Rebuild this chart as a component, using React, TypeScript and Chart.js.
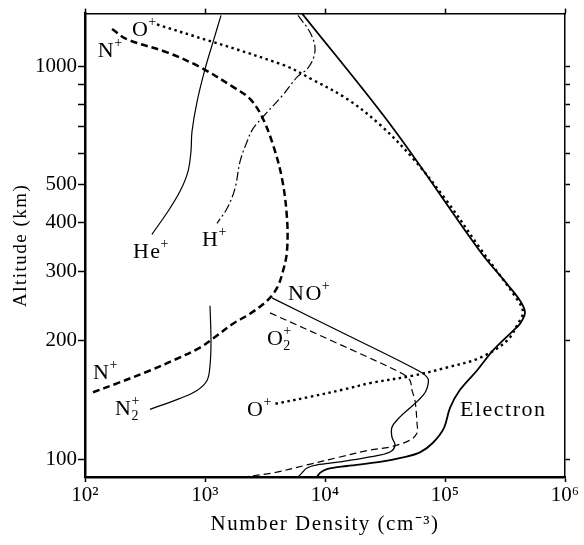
import React, { useEffect, useRef } from 'react';
import { Chart, registerables } from 'chart.js';

Chart.register(...registerables);

type P = [number, number];

// [number density (cm^-3), altitude (km)]
const electronDensity: P[] = [
  [6430, 1361], [36150, 701], [195700, 338], [328500, 279], [421700, 253], [464000, 236],
  [421700, 221], [368800, 212], [251200, 189], [184800, 168], [133400, 150], [110100, 135],
  [98100, 120], [79400, 110], [61900, 104], [44700, 101], [28700, 98.3], [15250, 96.0],
  [10390, 94.3], [9080, 92.2], [8580, 90],
];
const oxygenIon: P[] = [
  [398, 1276], [4470, 1007], [7943, 922], [15250, 825], [28740, 709], [54100, 582],
  [103900, 453], [195700, 344], [405600, 253], [446700, 236], [405600, 221], [328500, 200],
  [195700, 181], [103900, 171], [54100, 163], [23710, 156], [15250, 151], [7500, 144],
  [4217, 139], [3615, 138],
];
const nitrogenIon: P[] = [
  [168, 1242], [224, 1170], [482, 1084], [909, 994], [1711, 885], [2371, 825], [2985, 743],
  [3685, 631], [4385, 517], [4823, 410], [4823, 338], [4467, 301], [3981, 272.5], [3285, 252.7],
  [2371, 234.2], [1711, 221], [1166, 202.5], [909, 192.1], [541, 178.1], [348, 168],
  [185, 155.8], [110, 146.9],
];
const heliumIon: P[] = [
  [1360, 1346], [1166, 1151], [1000, 982], [858, 811], [779, 681], [764, 606], [721, 539],
  [619, 480], [492, 427], [361, 373],
];
const hydrogenIon: P[] = [
  [5957, 1346], [7499, 1219], [8254, 1117], [7943, 1041], [7079, 982], [5843, 937], [4467, 845],
  [3043, 743], [2512, 693], [2239, 642], [1957, 571], [1778, 488], [1525, 434], [1259, 398],
];
const nitricOxideIon: P[] = [
  [3615, 257], [14680, 208], [59570, 168], [72100, 160.3], [70800, 151.3], [65600, 145.2],
  [54100, 137], [42200, 128], [36150, 120.5], [36150, 113.7], [38300, 108.5], [34800, 104.2],
  [23700, 101.2], [13340, 98.3], [8577, 96.6], [7079, 94.9], [6427, 92.2], [5957, 90],
];
const oxygenMolIon: P[] = [
  [3480, 235.5], [12350, 197.7], [43830, 165.1], [51090, 158.5], [53090, 149.5], [56230, 140.9],
  [58430, 123.3], [58430, 116.4], [51090, 111.7], [34800, 107.3], [23700, 105.4], [13340, 101.2],
  [7079, 96.6], [3685, 92.2], [2073, 90],
];
const nitrogenMolIon: P[] = [
  [1101, 245.5], [1122, 200], [1101, 173], [1040, 158.5], [858, 149.5], [619, 142.7], [348, 133.8],
];

const xTickValues = [100, 1000, 10000, 100000, 1000000];
const xTickLabels = ['10²', '10³', '10⁴', '10⁵', '10⁶'];
const yTickValues = [100, 200, 300, 400, 500, 600, 700, 800, 900, 1000];
const yTickLabels = ['100', '200', '300', '400', '500', '', '', '', '', '1000'];

// curve labels: base text, subscript, superscript, anchor (density, altitude)
const curveLabels = [
  { base: 'O', sub: '', sup: '+', x: 246, y: 1233 },
  { base: 'N', sub: '', sup: '+', x: 128, y: 1091 },
  { base: 'He', sub: '', sup: '+', x: 251, y: 336 },
  { base: 'H', sub: '', sup: '+', x: 944, y: 360 },
  { base: 'NO', sub: '', sup: '+', x: 4917, y: 263 },
  { base: 'O', sub: '2', sup: '+', x: 3285, y: 202 },
  { base: 'N', sub: '', sup: '+', x: 116.6, y: 165 },
  { base: 'N', sub: '2', sup: '+', x: 178, y: 134 },
  { base: 'O', sub: '', sup: '+', x: 2239, y: 133 },
  { base: 'Electron', sub: '', sup: '', x: 133400, y: 133 },
];

const SERIF = "'Liberation Serif', 'Times New Roman', serif";

const toXY = (arr: P[]) => arr.map(([x, y]) => ({ x, y }));

const labelPlugin = {
  id: 'curveLabels',
  beforeDraw(chart: any) {
    chart.ctx.letterSpacing = '1.5px';
  },
  afterDatasetsDraw(chart: any) {
    const ctx = chart.ctx;
    const xs = chart.scales.x;
    const ys = chart.scales.y;
    ctx.save();
    ctx.fillStyle = '#000';
    ctx.textBaseline = 'middle';
    ctx.textAlign = 'left';
    for (const l of curveLabels) {
      const px = xs.getPixelForValue(l.x);
      const py = ys.getPixelForValue(l.y);
      ctx.letterSpacing = '1.5px';
      ctx.font = `22px ${SERIF}`;
      ctx.fillText(l.base, px, py);
      const w = ctx.measureText(l.base).width - 1;
      ctx.letterSpacing = '0px';
      ctx.font = `14px ${SERIF}`;
      if (l.sub) ctx.fillText(l.sub, px + w, py + 7);
      if (l.sup) ctx.fillText(l.sup, px + w, py - 8);
    }
    ctx.restore();
    ctx.letterSpacing = '0px';
  },
};

const ds = (label: string, data: P[], opts: any) => ({
  label,
  data: toXY(data),
  showLine: true,
  pointRadius: 0,
  pointHoverRadius: 0,
  borderColor: '#000',
  backgroundColor: '#000',
  fill: false,
  tension: 0.35,
  ...opts,
});

export default function App() {
  const ref = useRef<HTMLCanvasElement | null>(null);

  useEffect(() => {
    if (!ref.current) return;
    const tickFont = { family: SERIF, size: 21 };
    const chart = new Chart(ref.current, {
      type: 'scatter',
      data: {
        datasets: [
          ds('Electron', electronDensity, { borderWidth: 1.8 }),
          ds('O+', oxygenIon, { borderWidth: 2.4, borderDash: [2.5, 3.5] }),
          ds('N+', nitrogenIon, { borderWidth: 2.5, borderDash: [7, 4] }),
          ds('He+', heliumIon, { borderWidth: 1.2 }),
          ds('H+', hydrogenIon, { borderWidth: 1.2, borderDash: [9, 3, 2, 3] }),
          ds('NO+', nitricOxideIon, { borderWidth: 1.3 }),
          ds('O2+', oxygenMolIon, { borderWidth: 1.2, borderDash: [7, 4] }),
          ds('N2+', nitrogenMolIon, { borderWidth: 1.2 }),
        ],
      },
      options: {
        animation: false,
        responsive: true,
        maintainAspectRatio: false,
        devicePixelRatio: 1,
        layout: { padding: 0 },
        plugins: {
          legend: { display: false },
          tooltip: { enabled: false },
        },
        scales: {
          x: {
            type: 'logarithmic',
            position: 'bottom',
            min: 100,
            max: 1000000,
            afterBuildTicks: (s: any) => { s.ticks = xTickValues.map((v) => ({ value: v })); },
            afterFit: (s: any) => { s.height = 68; },
            ticks: {
              z: 1,
              padding: 1,
              color: '#000',
              font: tickFont,
              maxRotation: 0,
              autoSkip: false,
              callback: (_v: any, i: number) => xTickLabels[i],
            },
            grid: { drawOnChartArea: false, tickLength: 5, tickColor: '#000', tickWidth: 1.5 },
            border: { color: '#000', width: 2.5 },
            title: {
              display: true,
              text: 'Number Density (cm⁻³)',
              color: '#000',
              font: { family: SERIF, size: 21 },
              padding: { top: 0, bottom: 8 },
            },
          },
          x2: {
            type: 'logarithmic',
            position: 'top',
            min: 100,
            max: 1000000,
            afterBuildTicks: (s: any) => { s.ticks = xTickValues.map((v) => ({ value: v })); },
            afterFit: (s: any) => { s.height = 11; },
            ticks: { display: false },
            grid: { drawOnChartArea: false, tickLength: 5, tickColor: '#000', tickWidth: 1.5 },
            border: { color: '#000', width: 1.5 },
          },
          y: {
            type: 'logarithmic',
            position: 'left',
            min: 90,
            max: 1360,
            afterBuildTicks: (s: any) => { s.ticks = yTickValues.map((v) => ({ value: v })); },
            afterFit: (s: any) => { s.width = 85; },
            ticks: {
              z: 1,
              padding: 1,
              color: '#000',
              font: tickFont,
              autoSkip: false,
              callback: (_v: any, i: number) => yTickLabels[i],
            },
            grid: { drawOnChartArea: false, tickLength: 7, tickColor: '#000', tickWidth: 1.5 },
            border: { color: '#000', width: 2.5 },
            title: {
              display: true,
              text: 'Altitude (km)',
              color: '#000',
              font: { family: SERIF, size: 19 },
              padding: { top: 10, bottom: 0 },
            },
          },
          y2: {
            type: 'logarithmic',
            position: 'right',
            min: 90,
            max: 1360,
            afterBuildTicks: (s: any) => { s.ticks = yTickValues.map((v) => ({ value: v })); },
            afterFit: (s: any) => { s.width = 19; },
            ticks: { display: false },
            grid: { drawOnChartArea: false, tickLength: 5, tickColor: '#000', tickWidth: 1.5 },
            border: { color: '#000', width: 1.5 },
          },
        },
      } as any,
      plugins: [labelPlugin],
    });
    return () => chart.destroy();
  }, []);

  return (
    <div style={{ position: 'absolute', left: 0, top: 0, width: 584, height: 545, background: '#fff' }}>
      <canvas ref={ref} />
    </div>
  );
}
